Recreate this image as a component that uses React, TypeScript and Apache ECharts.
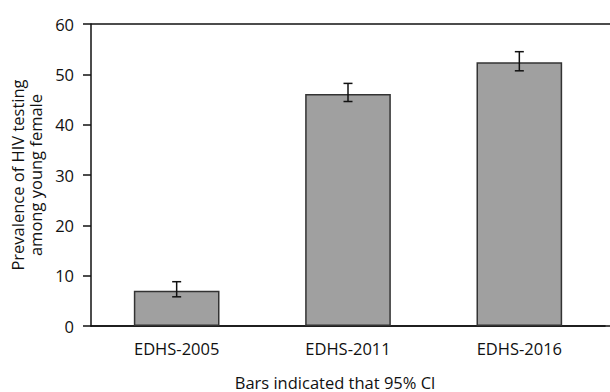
import React, { useEffect, useRef } from "react";
import * as echarts from "echarts";

const categories = ["EDHS-2005", "EDHS-2011", "EDHS-2016"];
const prevalence = [7.0, 46.1, 52.4];
const ciLower = [5.8, 44.6, 50.7];
const ciUpper = [8.8, 48.2, 54.5];
const yTicks = { min: 0, max: 60, interval: 10 };
const yAxisTitle = "Prevalence of HIV testing\namong young female";
const xAxisTitle = "Bars indicated that 95% Cl";

const FONT = "'Open Sans', sans-serif";
const FS = 16.5;

export default function App() {
  const ref = useRef<HTMLDivElement>(null);
  useEffect(() => {
    if (!ref.current) return;
    document.body.style.margin = "0";
    document.body.style.overflow = "hidden";
    const chart = echarts.init(ref.current, null, { renderer: "svg" });
    const errData = categories.map((_, i) => [i, ciLower[i], ciUpper[i]]);
    chart.setOption({
      animation: false,
      backgroundColor: "#ffffff",
      grid: { left: 91, top: 24, right: 5, bottom: 66, containLabel: false },
      xAxis: {
        type: "category",
        data: categories,
        axisLine: { show: true, lineStyle: { color: "#111", width: 1.5 } },
        axisTick: { show: false },
        axisLabel: { color: "#111", fontSize: FS, fontFamily: FONT, margin: 14 },
      },
      yAxis: {
        type: "value",
        min: yTicks.min,
        max: yTicks.max,
        interval: yTicks.interval,
        name: yAxisTitle,
        nameLocation: "middle",
        nameGap: 47,
        nameRotate: 90,
        nameTextStyle: { color: "#111", fontSize: FS, fontFamily: FONT, lineHeight: 18 },
        axisLine: { show: true, lineStyle: { color: "#111", width: 1.5 } },
        axisTick: { show: true, inside: false, length: 8, lineStyle: { color: "#111", width: 1.5 } },
        axisLabel: { color: "#111", fontSize: FS, fontFamily: FONT, margin: 17 },
        splitLine: { show: false },
      },
      graphic: [
        {
          type: "line",
          shape: { x1: 91, y1: 24, x2: 610, y2: 24 },
          style: { stroke: "#111", lineWidth: 1.5 },
          silent: true,
        },
        {
          type: "line",
          shape: { x1: 91, y1: 326, x2: 610, y2: 326 },
          style: { stroke: "#111", lineWidth: 1.5 },
          silent: true,
        },
        {
          type: "text",
          x: 335,
          y: 382,
          style: {
            text: xAxisTitle,
            fill: "#111",
            fontSize: FS,
            fontFamily: FONT,
            textAlign: "center",
            textVerticalAlign: "middle",
          },
        },
      ],
      series: [
        {
          type: "bar",
          data: prevalence,
          barWidth: "50%",
          itemStyle: { color: "#a0a0a0", borderColor: "#333", borderWidth: 1.5 },
        },
        {
          type: "custom",
          data: errData,
          z: 10,
          renderItem: (params: any, api: any) => {
            const x = api.value(0);
            const lo = api.coord([x, api.value(1)]);
            const hi = api.coord([x, api.value(2)]);
            const hw = 4.5;
            const style = { stroke: "#111", lineWidth: 1.5 };
            return {
              type: "group",
              children: [
                { type: "line", shape: { x1: lo[0], y1: lo[1], x2: hi[0], y2: hi[1] }, style },
                { type: "line", shape: { x1: hi[0] - hw, y1: hi[1], x2: hi[0] + hw, y2: hi[1] }, style },
                { type: "line", shape: { x1: lo[0] - hw, y1: lo[1], x2: lo[0] + hw, y2: lo[1] }, style },
              ],
            };
          },
        },
      ],
    });
    return () => chart.dispose();
  }, []);
  return <div ref={ref} style={{ width: 610, height: 392 }} />;
}
